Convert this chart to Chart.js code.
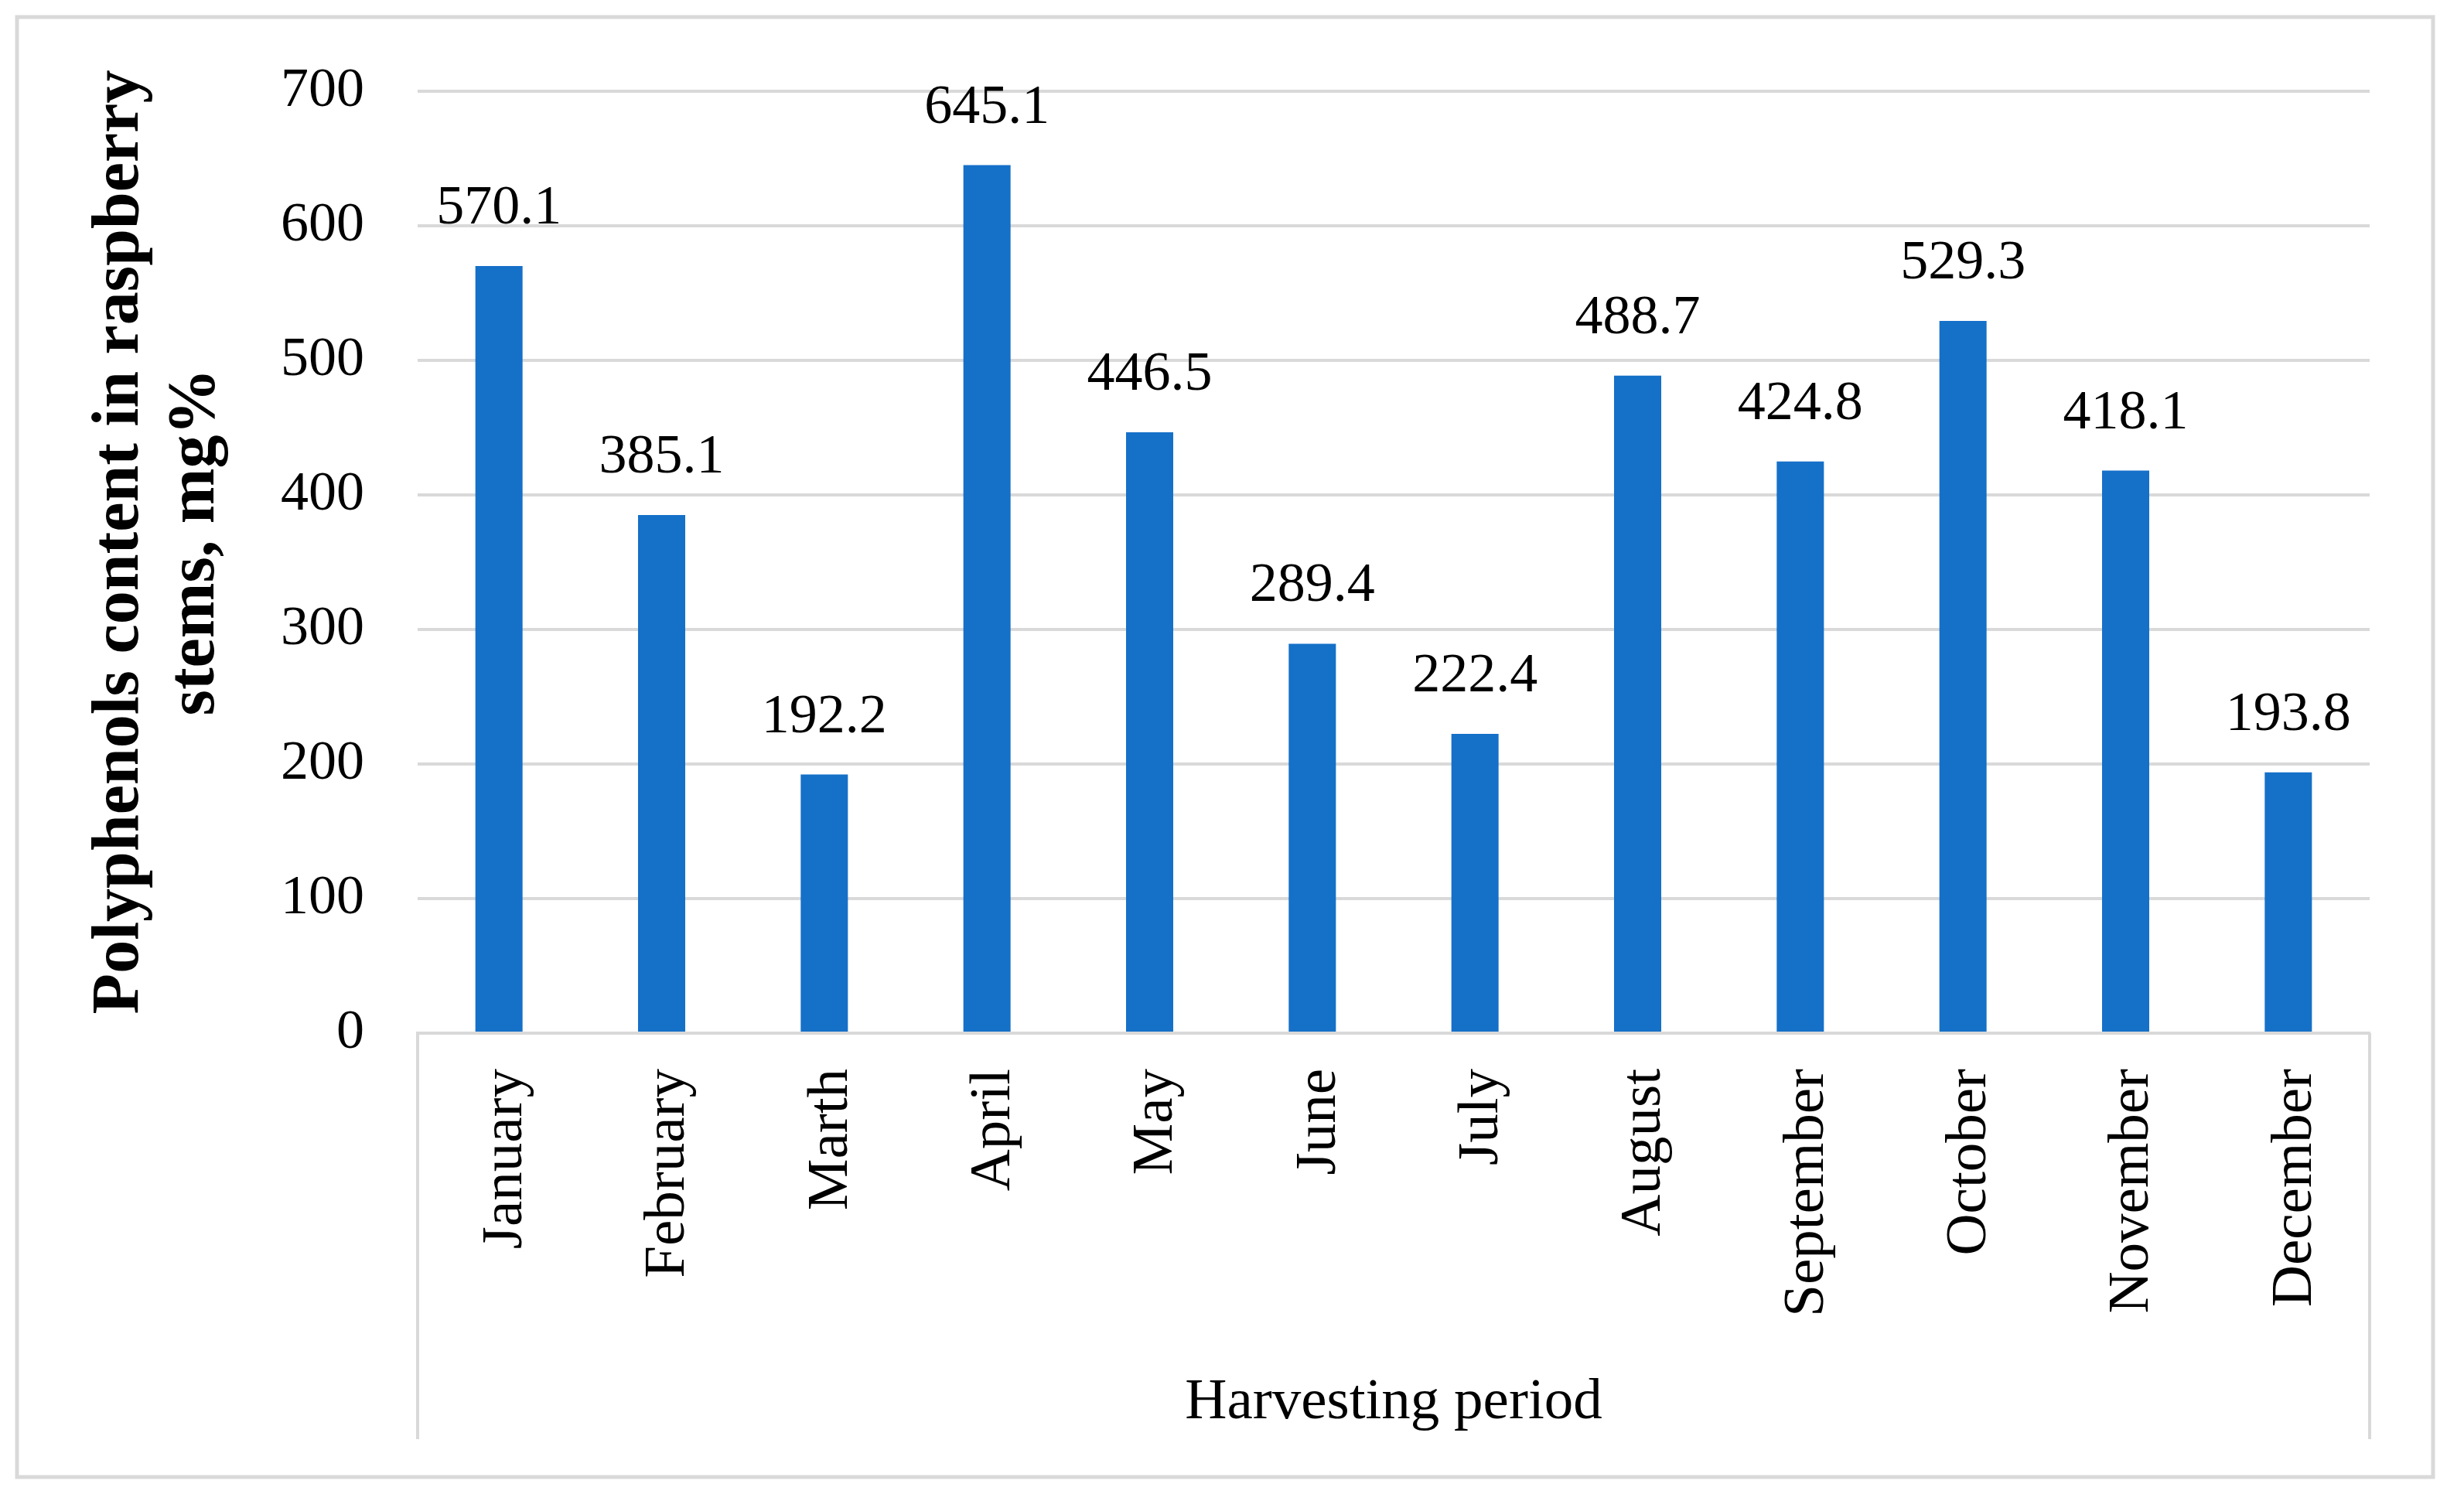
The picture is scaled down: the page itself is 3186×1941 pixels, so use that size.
<!DOCTYPE html>
<html>
<head>
<meta charset="utf-8">
<script src="https://cdn.jsdelivr.net/npm/chart.js@4.4.1/dist/chart.umd.min.js"></script>
<style>
  html, body { margin: 0; padding: 0; background: #ffffff; }
  #wrap { width: 3186px; height: 1941px; position: relative; }
  canvas { display: block; }
</style>
</head>
<body>
<div id="wrap"><canvas id="c" width="3186" height="1941"></canvas></div>
<script>
const categories = ['January', 'February', 'Marth', 'April', 'May', 'June', 'July', 'August', 'September', 'October', 'November', 'December'];
const polyphenols = [570.1, 385.1, 192.2, 645.1, 446.5, 289.4, 222.4, 488.7, 424.8, 529.3, 418.1, 193.8];
const yTitleLines = ['Polyphenols content in raspberry', 'stems, mg%'];
const xTitle = 'Harvesting period';
const yMin = 0, yMax = 700, yStep = 100;

const SERIF = '"Liberation Serif", "Times New Roman", serif';
const GRID = '#D9D9D9';

const frame = {
  id: 'frame',
  beforeDraw(chart) {
    const ctx = chart.ctx;
    ctx.save();
    ctx.fillStyle = '#ffffff';
    ctx.fillRect(0, 0, chart.width, chart.height);
    ctx.strokeStyle = GRID;
    ctx.lineWidth = 5;
    ctx.strokeRect(22, 22, 3124, 1888);
    ctx.restore();
  },
  afterDraw(chart) {
    const ctx = chart.ctx;
    const a = chart.chartArea;
    const xs = chart.scales.x;
    ctx.save();
    ctx.strokeStyle = GRID;
    ctx.lineWidth = 4;
    ctx.beginPath();
    ctx.moveTo(a.left, a.bottom);
    ctx.lineTo(a.left, xs.bottom - 80);
    ctx.moveTo(a.right, a.bottom);
    ctx.lineTo(a.right, xs.bottom - 80);
    ctx.stroke();
    // y-axis title (two lines, rotated)
    ctx.fillStyle = '#000000';
    ctx.font = 'bold 86px ' + SERIF;
    ctx.textAlign = 'center';
    ctx.textBaseline = 'alphabetic';
    const cy = (a.top + a.bottom) / 2 - 26;
    const xsLine = [178, 276];
    yTitleLines.forEach((t, i) => {
      ctx.save();
      ctx.translate(xsLine[i], cy);
      ctx.rotate(-Math.PI / 2);
      ctx.fillText(t, 0, 0);
      ctx.restore();
    });
    ctx.restore();
  },
  afterDatasetsDraw(chart) {
    const ctx = chart.ctx;
    const meta = chart.getDatasetMeta(0);
    ctx.save();
    ctx.fillStyle = '#000000';
    ctx.font = '72px ' + SERIF;
    ctx.textAlign = 'center';
    ctx.textBaseline = 'alphabetic';
    meta.data.forEach((bar, i) => {
      ctx.fillText(polyphenols[i].toFixed(1), bar.x, bar.y - 55);
    });
    ctx.restore();
  }
};

new Chart(document.getElementById('c'), {
  type: 'bar',
  data: {
    labels: categories,
    datasets: [{
      data: polyphenols,
      backgroundColor: '#1570C8',
      borderWidth: 0,
      categoryPercentage: 1.0,
      barPercentage: 0.29
    }]
  },
  options: {
    responsive: false,
    animation: false,
    devicePixelRatio: 1,
    layout: { padding: { top: 118, right: 122, bottom: 0, left: 0 } },
    plugins: { legend: { display: false }, tooltip: { enabled: false } },
    scales: {
      x: {
        grid: { display: false, drawTicks: false },
        border: { display: true, color: GRID, width: 4 },
        ticks: {
          autoSkip: false,
          minRotation: 90,
          maxRotation: 90,
          padding: 46,
          labelOffset: 9,
          color: '#000000',
          font: { family: SERIF, size: 75 }
        },
        title: {
          display: true,
          text: xTitle,
          color: '#000000',
          font: { family: SERIF, size: 75 },
          padding: { top: 0, bottom: 82 }
        },
        afterFit(scale) { scale.height = 605; }
      },
      y: {
        min: yMin,
        max: yMax,
        grid: { color: GRID, lineWidth: 4, drawTicks: false },
        border: { display: false },
        ticks: {
          stepSize: yStep,
          padding: 69,
          color: '#000000',
          font: { family: SERIF, size: 72 }
        },
        afterFit(scale) { scale.width = 540; }
      }
    }
  },
  plugins: [frame]
});
</script>
</body>
</html>
